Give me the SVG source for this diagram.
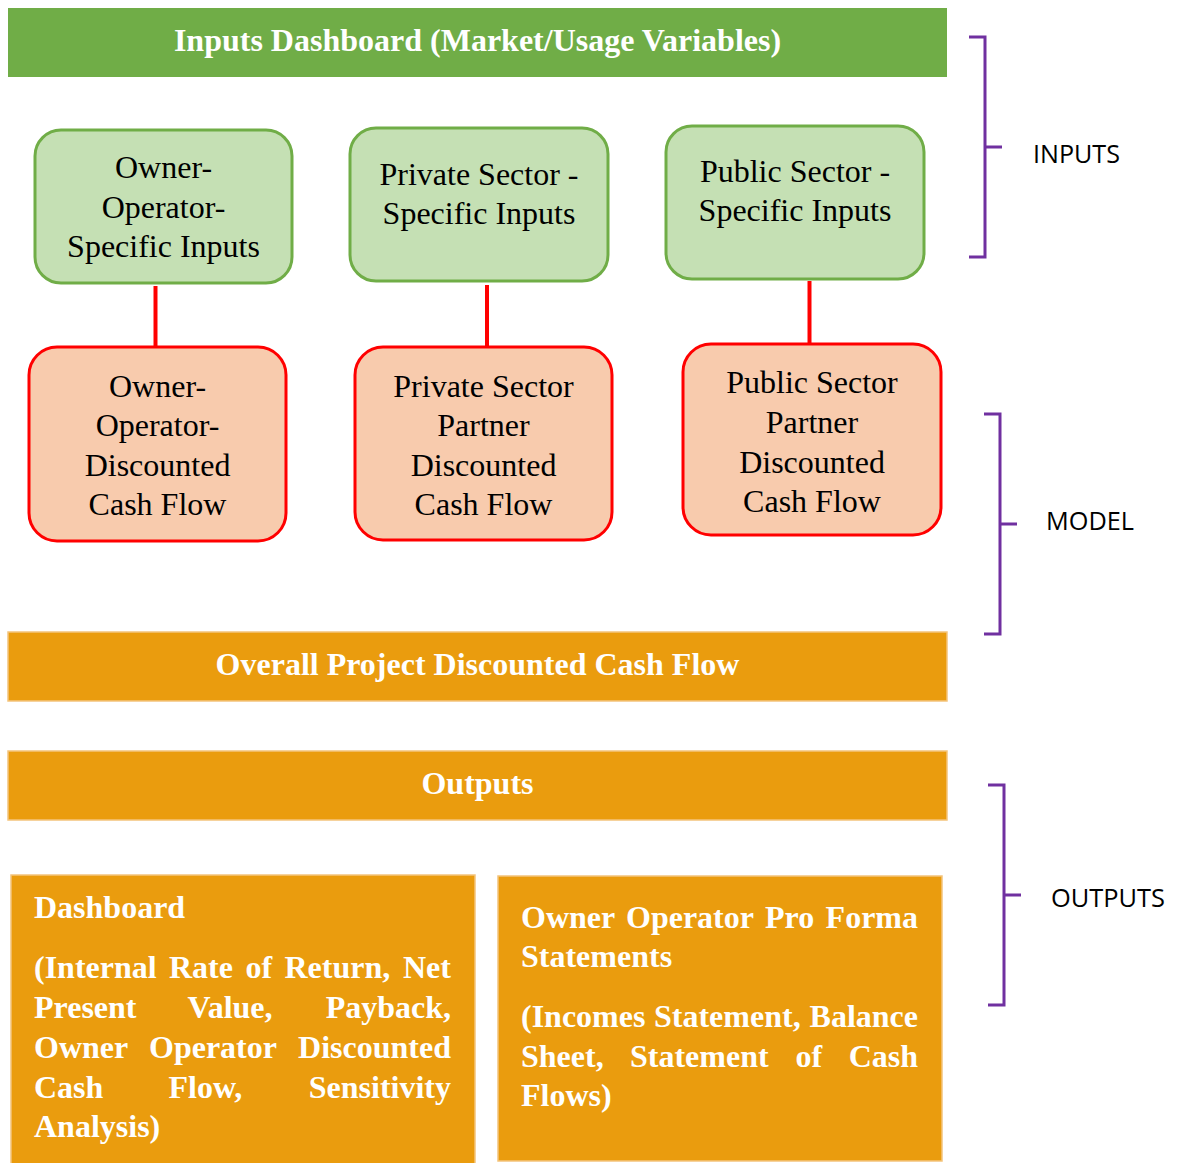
<svg xmlns="http://www.w3.org/2000/svg" width="1181" height="1163" viewBox="0 0 1181 1163">
<style>
.bar-g{fill:#70AD47}
.bar-o{fill:#EA9C0E;stroke:#F4C47C;stroke-width:1.5}
.gbox{fill:#C5E0B4;stroke:#70AD47;stroke-width:3}
.rbox{fill:#F8CBAD;stroke:#FF0000;stroke-width:3}
.t{font-family:"Liberation Serif","Times New Roman",serif;font-size:32px;fill:#000;text-anchor:middle}
.tw{font-family:"Liberation Serif","Times New Roman",serif;font-size:32px;font-weight:bold;fill:#fff;text-anchor:middle}
.tb{font-family:"Liberation Serif","Times New Roman",serif;font-size:32px;font-weight:bold;fill:#fff}
.e{text-anchor:end}
.lbl{font-family:"Open Sans","Liberation Sans",sans-serif;font-size:25px;fill:#000}
.conn{stroke:#FF0000;stroke-width:4;fill:none}
.brk{stroke:#7030A0;stroke-width:3;fill:none}
</style>
<rect width="1181" height="1163" fill="#fff"/>

<g id="inputs-dashboard">
<rect class="bar-g" x="8" y="8" width="939" height="69"/>
<text class="tw" x="477.5" y="51">Inputs Dashboard (Market/Usage Variables)</text>
</g>

<g id="owner-inputs">
<rect class="gbox" x="35" y="130" width="257" height="153" rx="26"/>
<text class="t" x="163.5" y="178">Owner-</text>
<text class="t" x="163.5" y="218">Operator-</text>
<text class="t" x="163.5" y="257">Specific Inputs</text>
</g>
<g id="private-inputs">
<rect class="gbox" x="350" y="128" width="258" height="153" rx="26"/>
<text class="t" x="479" y="185">Private Sector -</text>
<text class="t" x="479" y="224">Specific Inputs</text>
</g>
<g id="public-inputs">
<rect class="gbox" x="666" y="126" width="258" height="153" rx="26"/>
<text class="t" x="795" y="182">Public Sector -</text>
<text class="t" x="795" y="221">Specific Inputs</text>
</g>

<g id="connectors">
<line class="conn" x1="155.5" y1="286" x2="155.5" y2="346"/>
<line class="conn" x1="487" y1="285" x2="487" y2="346"/>
<line class="conn" x1="809.5" y1="281" x2="809.5" y2="343"/>
</g>

<g id="owner-dcf">
<rect class="rbox" x="29" y="347" width="257" height="194" rx="28"/>
<text class="t" x="157.5" y="397">Owner-</text>
<text class="t" x="157.5" y="436">Operator-</text>
<text class="t" x="157.5" y="476">Discounted</text>
<text class="t" x="157.5" y="515">Cash Flow</text>
</g>
<g id="private-dcf">
<rect class="rbox" x="355" y="347" width="257" height="193" rx="28"/>
<text class="t" x="483.5" y="397">Private Sector</text>
<text class="t" x="483.5" y="436">Partner</text>
<text class="t" x="483.5" y="476">Discounted</text>
<text class="t" x="483.5" y="515">Cash Flow</text>
</g>
<g id="public-dcf">
<rect class="rbox" x="683" y="344" width="258" height="191" rx="28"/>
<text class="t" x="812" y="393">Public Sector</text>
<text class="t" x="812" y="433">Partner</text>
<text class="t" x="812" y="473">Discounted</text>
<text class="t" x="812" y="512">Cash Flow</text>
</g>

<g id="overall-dcf">
<rect class="bar-o" x="8" y="632" width="939" height="69"/>
<text class="tw" x="477.5" y="675">Overall Project Discounted Cash Flow</text>
</g>

<g id="outputs">
<rect class="bar-o" x="8" y="751" width="939" height="69"/>
<text class="tw" x="477.5" y="794">Outputs</text>
</g>

<g id="dashboard">
<rect class="bar-o" x="11" y="875" width="464" height="290"/>
<text class="tb" x="34" y="918">Dashboard</text>
<text class="tb" y="978"><tspan x="34">(Internal</tspan><tspan x="169">Rate</tspan><tspan x="245.5">of</tspan><tspan x="284.5">Return,</tspan><tspan x="403">Net</tspan></text>
<text class="tb" y="1018"><tspan x="34">Present</tspan><tspan x="187.5">Value,</tspan></text>
<text class="tb e" x="451" y="1018">Payback,</text>
<text class="tb" y="1058"><tspan x="34">Owner</tspan><tspan x="149">Operator</tspan></text>
<text class="tb e" x="451" y="1058">Discounted</text>
<text class="tb" y="1098"><tspan x="34">Cash</tspan><tspan x="168.5">Flow,</tspan></text>
<text class="tb e" x="451" y="1098">Sensitivity</text>
<text class="tb" x="34" y="1137">Analysis)</text>
</g>

<g id="pro-forma">
<rect class="bar-o" x="498" y="876" width="444" height="285"/>
<text class="tb" y="928"><tspan x="521">Owner</tspan><tspan x="626">Operator</tspan><tspan x="765">Pro</tspan></text>
<text class="tb e" x="918" y="928">Forma</text>
<text class="tb" x="521" y="967">Statements</text>
<text class="tb" y="1027"><tspan x="521">(Incomes</tspan><tspan x="654">Statement,</tspan></text>
<text class="tb e" x="918" y="1027">Balance</text>
<text class="tb" y="1067"><tspan x="521">Sheet,</tspan><tspan x="630">Statement</tspan><tspan x="795.5">of</tspan></text>
<text class="tb e" x="918" y="1067">Cash</text>
<text class="tb" x="521" y="1106">Flows)</text>
</g>

<g id="bracket-inputs">
<path class="brk" d="M969,37 H985 V257 H969 M985,147 H1002"/>
<text class="lbl" x="1033" y="163" textLength="87" lengthAdjust="spacingAndGlyphs">INPUTS</text>
</g>
<g id="bracket-model">
<path class="brk" d="M984,414 H1000 V634 H984 M1000,524 H1017"/>
<text class="lbl" x="1046" y="530" textLength="88" lengthAdjust="spacingAndGlyphs">MODEL</text>
</g>
<g id="bracket-outputs">
<path class="brk" d="M988,785 H1004 V1005 H988 M1004,895 H1021"/>
<text class="lbl" x="1051" y="907" textLength="114" lengthAdjust="spacingAndGlyphs">OUTPUTS</text>
</g>
</svg>
